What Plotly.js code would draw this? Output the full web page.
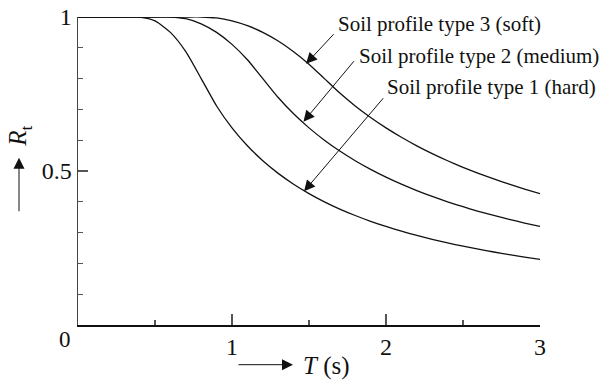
<!DOCTYPE html>
<html>
<head>
<meta charset="utf-8">
<script src="https://cdn.plot.ly/plotly-3.0.1.min.js"></script>
<style>html,body{margin:0;padding:0;background:#fff;}#chart{width:605px;height:383px;}</style>
</head>
<body>
<div id="chart"></div>
<script>
// Period T (s)
const periodT = [0, 0.1, 0.2, 0.3, 0.4, 0.5, 0.6, 0.7, 0.8, 0.9, 1.0, 1.1, 1.2, 1.3, 1.4, 1.5,
                 1.6, 1.7, 1.8, 1.9, 2.0, 2.1, 2.2, 2.3, 2.4, 2.5, 2.6, 2.7, 2.8, 2.9, 3.0];
// Rt
const rtType1 = [1, 1, 1, 1, 1, 0.9875, 0.95, 0.8875, 0.8, 0.7111, 0.64, 0.5818, 0.5333, 0.4923, 0.4571, 0.4267,
                 0.4, 0.3765, 0.3556, 0.3368, 0.32, 0.3048, 0.2909, 0.2783, 0.2667, 0.256, 0.2462, 0.237, 0.2286, 0.2207, 0.2133];
const rtType2 = [1, 1, 1, 1, 1, 1, 1, 0.9944, 0.9778, 0.95, 0.9111, 0.8611, 0.8, 0.7385, 0.6857, 0.64,
                 0.6, 0.5647, 0.5333, 0.5053, 0.48, 0.4571, 0.4364, 0.4174, 0.4, 0.384, 0.3692, 0.3556, 0.3429, 0.331, 0.32];
const rtType3 = [1, 1, 1, 1, 1, 1, 1, 1, 1, 0.9969, 0.9875, 0.9719, 0.95, 0.9219, 0.8875, 0.8469,
                 0.8, 0.7529, 0.7111, 0.6737, 0.64, 0.6095, 0.5818, 0.5565, 0.5333, 0.512, 0.4923, 0.4741, 0.4571, 0.4414, 0.4267];

const seriesNames = ['Soil profile type 1 (hard)', 'Soil profile type 2 (medium)', 'Soil profile type 3 (soft)'];
const xTickVals = [1, 2, 3];
const xTickText = ['1', '2', '3'];
const yTickVals = [0.5, 1];
const yTickText = ['0.5', '1'];

// label pointers: [arrow head T, head Rt, tail T, tail Rt]
const pointer3 = [1.481, 0.848, 1.669, 0.949];
const pointer2 = [1.464, 0.660, 1.799, 0.861];
const pointer1 = [1.468, 0.434, 1.990, 0.741];

const serif = "'Liberation Serif', 'Times New Roman', Times, serif";
const lineStyle = {color: '#111', width: 1.3, shape: 'spline', smoothing: 0.6};

const traces = [rtType1, rtType2, rtType3].map((ys, i) => ({
  type: 'scatter', mode: 'lines', x: periodT, y: ys, name: seriesNames[i],
  line: lineStyle, cliponaxis: false, hoverinfo: 'skip'
}));

function pointer(p) {
  return {x: p[0], y: p[1], ax: p[2], ay: p[3], xref: 'x', yref: 'y', axref: 'x', ayref: 'y',
          text: '', showarrow: true, arrowhead: 2, arrowsize: 2.2, arrowwidth: 1, arrowcolor: '#111', standoff: 0};
}
function label(text, px, py) {
  return {x: (px - 78) / 462, y: (325.3 - py) / 308, xref: 'paper', yref: 'paper', text: text,
          showarrow: false, xanchor: 'left', yanchor: 'middle', font: {family: serif, size: 21, color: '#111'}};
}

const annotations = [
  pointer(pointer3), pointer(pointer2), pointer(pointer1),
  label(seriesNames[2], 336, 24),
  label(seriesNames[1], 357, 56),
  label(seriesNames[0], 385, 87),
  // corner zero
  {x: (65 - 78) / 462, y: (325.3 - 340) / 308, xref: 'paper', yref: 'paper', text: '0', showarrow: false,
   xanchor: 'center', yanchor: 'middle', font: {family: serif, size: 23, color: '#111'}},
  // y axis title
  {x: (20 - 78) / 462, y: (325.3 - 137) / 308, xref: 'paper', yref: 'paper', text: '<i>R</i><sub>t</sub>',
   textangle: -90, showarrow: false, xanchor: 'center', yanchor: 'middle', font: {family: serif, size: 25, color: '#111'}},
  {x: (19 - 78) / 462, y: (325.3 - 158) / 308, xref: 'paper', yref: 'paper', text: '', showarrow: true,
   ax: 0, ay: 55, axref: 'pixel', ayref: 'pixel', arrowhead: 2, arrowsize: 2.2, arrowwidth: 1, arrowcolor: '#111', standoff: 0},
  // x axis title
  {x: (293 - 78) / 462, y: (325.3 - 365) / 308, xref: 'paper', yref: 'paper', text: '', showarrow: true,
   ax: -56, ay: 0, axref: 'pixel', ayref: 'pixel', arrowhead: 2, arrowsize: 2.2, arrowwidth: 1, arrowcolor: '#111', standoff: 0},
  {x: (301 - 78) / 462, y: (325.3 - 366) / 308, xref: 'paper', yref: 'paper', text: '<i>T</i> (s)',
   showarrow: false, xanchor: 'left', yanchor: 'middle', font: {family: serif, size: 25, color: '#111'}}
];

const layout = {
  width: 605, height: 383,
  margin: {l: 78, r: 65, t: 17, b: 58},
  paper_bgcolor: '#fff', plot_bgcolor: '#fff',
  showlegend: false,
  font: {family: serif, size: 23, color: '#111'},
  xaxis: {
    range: [0, 3], showgrid: false, zeroline: false, showline: true, linecolor: '#111', linewidth: 1.5,
    ticks: 'inside', ticklen: 11, tickwidth: 1.3, tickcolor: '#555',
    tickvals: xTickVals, ticktext: xTickText, tickfont: {family: serif, size: 24, color: '#111'},
    minor: {tickvals: [0, 0.5, 1.5, 2.5], ticks: 'inside', ticklen: 5, tickwidth: 1.3, tickcolor: '#555'},
    fixedrange: true
  },
  yaxis: {
    range: [0, 1], showgrid: false, zeroline: false, showline: true, linecolor: '#444', linewidth: 1.5,
    ticks: 'inside', ticklen: 10, tickwidth: 1.3, tickcolor: '#555',
    tickvals: yTickVals, ticktext: yTickText, tickfont: {family: serif, size: 24, color: '#111'},
    minor: {dtick: 0.1, ticks: 'inside', ticklen: 5, tickwidth: 1.3, tickcolor: '#555'},
    fixedrange: true
  },
  annotations: annotations
};

Plotly.newPlot('chart', traces, layout, {staticPlot: true, displayModeBar: false});
</script>
</body>
</html>
